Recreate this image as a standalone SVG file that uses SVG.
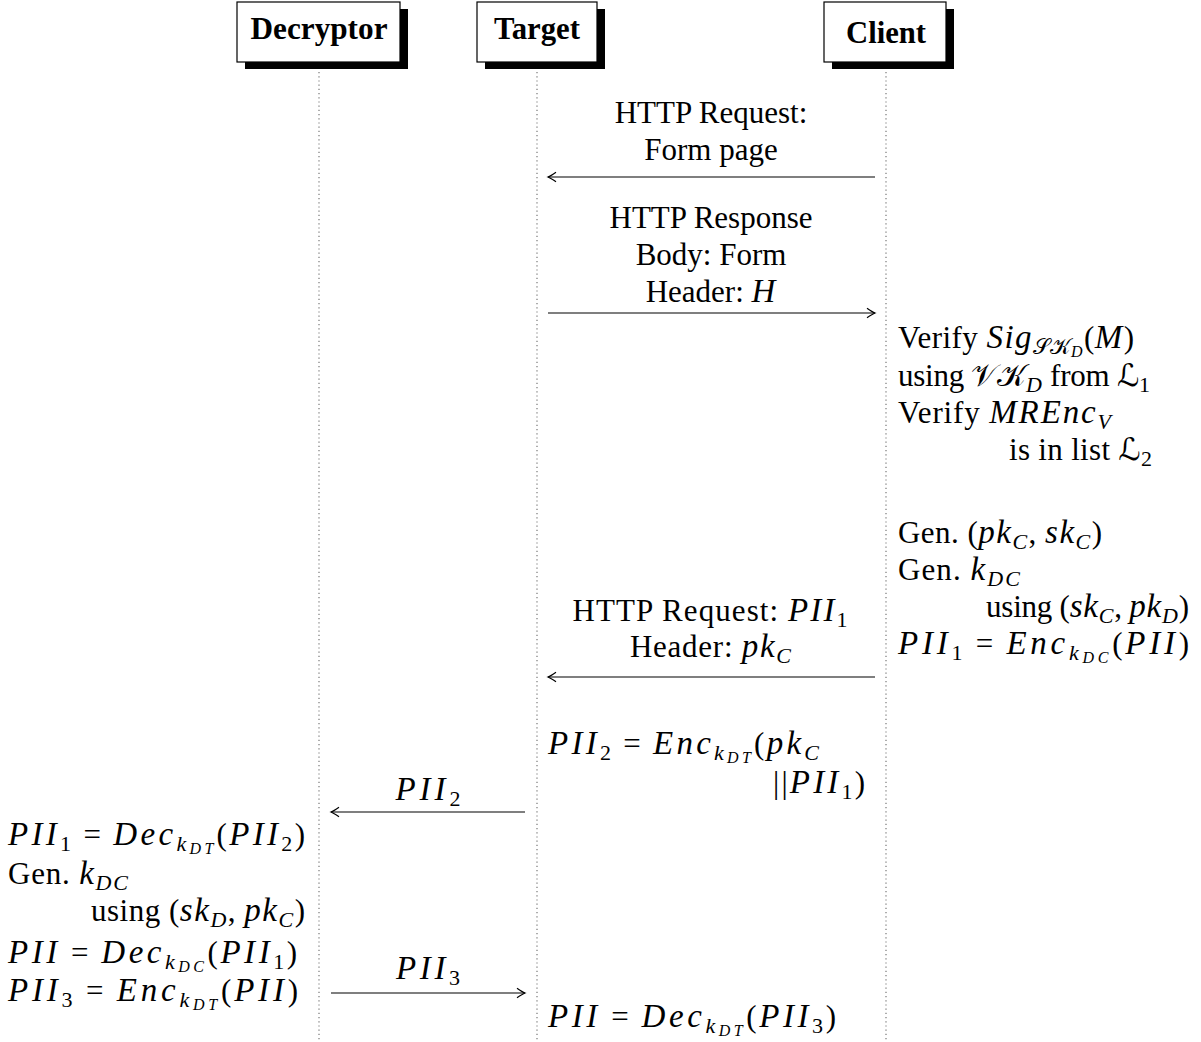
<svg xmlns="http://www.w3.org/2000/svg" width="1201" height="1042" viewBox="0 0 1201 1042">
<style>
.t{font-family:"Liberation Serif","Times New Roman",serif;font-size:31px;fill:#000}
.h{font-weight:bold;text-anchor:middle;font-size:32px}
.c{text-anchor:middle}
.e{text-anchor:end}
.m{font-style:italic;letter-spacing:1px;font-size:33px}
.s{font-size:22px}
.ss{font-size:16px}
.cal{font-family:"DejaVu Serif","DejaVu Sans","Noto Sans",serif;font-style:normal}
.life{stroke:#777;stroke-width:1.2;stroke-dasharray:1.2 3;fill:none}
.box{fill:#fff;stroke:#000;stroke-width:1.2}
.shadow{fill:#000}
.msg{stroke:#000;stroke-width:1.2;fill:none;marker-end:url(#ah)}
</style>
<defs>
<marker id="ah" markerUnits="userSpaceOnUse" markerWidth="16" markerHeight="14" viewBox="-12 -7 16 14" refX="0" refY="0" orient="auto">
<path d="M-8,-4.8 Q-2.5,-1 0,0 Q-2.5,1 -8,4.8" fill="none" stroke="#000" stroke-width="1.2"/>
</marker>
</defs>
<rect width="1201" height="1042" fill="#fff"/>

<g id="lifelines">
<line class="life" x1="319" y1="72" x2="319" y2="1042"/>
<line class="life" x1="537" y1="72" x2="537" y2="1042"/>
<line class="life" x1="886" y1="72" x2="886" y2="1042"/>
</g>

<g id="decryptor">
<rect class="shadow" x="245" y="9" width="163" height="60"/>
<rect class="box" x="237" y="2" width="163" height="60"/>
<text class="t h" x="319" y="39" textLength="137" lengthAdjust="spacingAndGlyphs">Decryptor</text>
</g>
<g id="target">
<rect class="shadow" x="485" y="9" width="120" height="60"/>
<rect class="box" x="477" y="2" width="120" height="60"/>
<text class="t h" x="537" y="39" textLength="86" lengthAdjust="spacingAndGlyphs">Target</text>
</g>
<g id="client">
<rect class="shadow" x="832" y="9" width="122" height="60"/>
<rect class="box" x="824" y="2" width="122" height="60"/>
<text class="t h" x="886" y="43" textLength="80" lengthAdjust="spacingAndGlyphs">Client</text>
</g>

<g id="connectors">
<line class="msg" x1="875" y1="177" x2="548" y2="177"/>
<line class="msg" x1="548" y1="313" x2="875" y2="313"/>
<line class="msg" x1="875" y1="677" x2="548" y2="677"/>
<line class="msg" x1="525" y1="812" x2="331" y2="812"/>
<line class="msg" x1="331" y1="993" x2="525" y2="993"/>
</g>

<g id="msg-labels">
<text class="t c" x="711" y="123">HTTP Request:</text>
<text class="t c" x="711" y="160">Form page</text>
<text class="t c" x="711" y="228">HTTP Response</text>
<text class="t c" x="711" y="265">Body: Form</text>
<text class="t c" x="711" y="302">Header: <tspan class="m">H</tspan></text>
<text class="t c" x="710" y="621" textLength="275" lengthAdjust="spacing">HTTP Request: <tspan class="m">PII</tspan><tspan class="s" dy="6">1</tspan></text>
<text class="t c" x="711" y="657" textLength="162" lengthAdjust="spacing">Header: <tspan class="m">pk</tspan><tspan class="s m" dy="6">C</tspan></text>
<text class="t c" x="428" y="800" textLength="65" lengthAdjust="spacing"><tspan class="m">PII</tspan><tspan class="s" dy="6">2</tspan></text>
<text class="t c" x="428" y="979" textLength="64" lengthAdjust="spacing"><tspan class="m">PII</tspan><tspan class="s" dy="6">3</tspan></text>
</g>

<g id="client-note1">
<text class="t" x="898" y="348" textLength="236" lengthAdjust="spacing">Verify <tspan class="m">Sig</tspan><tspan class="s cal" dy="6">𝒮𝒦</tspan><tspan class="ss m" dy="3">D</tspan><tspan dy="-9">(</tspan><tspan class="m">M</tspan>)</text>
<text class="t" x="898" y="386" textLength="252" lengthAdjust="spacing">using <tspan class="cal">𝒱𝒦</tspan><tspan class="s m" dy="6">D</tspan><tspan dy="-6"> from </tspan><tspan class="cal">ℒ</tspan><tspan class="s" dy="6">1</tspan></text>
<text class="t" x="898" y="423" textLength="214" lengthAdjust="spacing">Verify <tspan class="m">MREnc</tspan><tspan class="s m" dy="6">V</tspan></text>
<text class="t" x="1009" y="460" textLength="143" lengthAdjust="spacing">is in list <tspan class="cal">ℒ</tspan><tspan class="s" dy="6">2</tspan></text>
</g>

<g id="client-note2">
<text class="t" x="898" y="543" textLength="204" lengthAdjust="spacing">Gen. (<tspan class="m">pk</tspan><tspan class="s m" dy="6">C</tspan><tspan dy="-6">, </tspan><tspan class="m">sk</tspan><tspan class="s m" dy="6">C</tspan><tspan dy="-6">)</tspan></text>
<text class="t" x="898" y="580" textLength="123" lengthAdjust="spacing">Gen. <tspan class="m">k</tspan><tspan class="s m" dy="6">DC</tspan></text>
<text class="t" x="986" y="617" textLength="203" lengthAdjust="spacing">using (<tspan class="m">sk</tspan><tspan class="s m" dy="6">C</tspan><tspan dy="-6">, </tspan><tspan class="m">pk</tspan><tspan class="s m" dy="6">D</tspan><tspan dy="-6">)</tspan></text>
<text class="t" x="898" y="654" textLength="291" lengthAdjust="spacing"><tspan class="m">PII</tspan><tspan class="s" dy="6">1</tspan><tspan dy="-6"> = </tspan><tspan class="m">Enc</tspan><tspan class="s m" dy="6">k</tspan><tspan class="ss m" dy="3">DC</tspan><tspan dy="-9">(</tspan><tspan class="m">PII</tspan>)</text>
</g>

<g id="target-note1">
<text class="t" x="548" y="754" textLength="272" lengthAdjust="spacing"><tspan class="m">PII</tspan><tspan class="s" dy="6">2</tspan><tspan dy="-6"> = </tspan><tspan class="m">Enc</tspan><tspan class="s m" dy="6">k</tspan><tspan class="ss m" dy="3">DT</tspan><tspan dy="-9">(</tspan><tspan class="m">pk</tspan><tspan class="s m" dy="6">C</tspan></text>
<text class="t e" x="865" y="793" textLength="92" lengthAdjust="spacing">||<tspan class="m">PII</tspan><tspan class="s" dy="6">1</tspan><tspan dy="-6">)</tspan></text>
</g>

<g id="decryptor-note">
<text class="t" x="8" y="845" textLength="297" lengthAdjust="spacing"><tspan class="m">PII</tspan><tspan class="s" dy="6">1</tspan><tspan dy="-6"> = </tspan><tspan class="m">Dec</tspan><tspan class="s m" dy="6">k</tspan><tspan class="ss m" dy="3">DT</tspan><tspan dy="-9">(</tspan><tspan class="m">PII</tspan><tspan class="s" dy="6">2</tspan><tspan dy="-6">)</tspan></text>
<text class="t" x="8" y="884" textLength="121" lengthAdjust="spacing">Gen. <tspan class="m">k</tspan><tspan class="s m" dy="6">DC</tspan></text>
<text class="t" x="91" y="921" textLength="214" lengthAdjust="spacing">using (<tspan class="m">sk</tspan><tspan class="s m" dy="6">D</tspan><tspan dy="-6">, </tspan><tspan class="m">pk</tspan><tspan class="s m" dy="6">C</tspan><tspan dy="-6">)</tspan></text>
<text class="t" x="8" y="963" textLength="289" lengthAdjust="spacing"><tspan class="m">PII</tspan> = <tspan class="m">Dec</tspan><tspan class="s m" dy="6">k</tspan><tspan class="ss m" dy="3">DC</tspan><tspan dy="-9">(</tspan><tspan class="m">PII</tspan><tspan class="s" dy="6">1</tspan><tspan dy="-6">)</tspan></text>
<text class="t" x="8" y="1001" textLength="290" lengthAdjust="spacing"><tspan class="m">PII</tspan><tspan class="s" dy="6">3</tspan><tspan dy="-6"> = </tspan><tspan class="m">Enc</tspan><tspan class="s m" dy="6">k</tspan><tspan class="ss m" dy="3">DT</tspan><tspan dy="-9">(</tspan><tspan class="m">PII</tspan>)</text>
</g>

<g id="target-note2">
<text class="t" x="548" y="1027" textLength="288" lengthAdjust="spacing"><tspan class="m">PII</tspan> = <tspan class="m">Dec</tspan><tspan class="s m" dy="6">k</tspan><tspan class="ss m" dy="3">DT</tspan><tspan dy="-9">(</tspan><tspan class="m">PII</tspan><tspan class="s" dy="6">3</tspan><tspan dy="-6">)</tspan></text>
</g>
</svg>
